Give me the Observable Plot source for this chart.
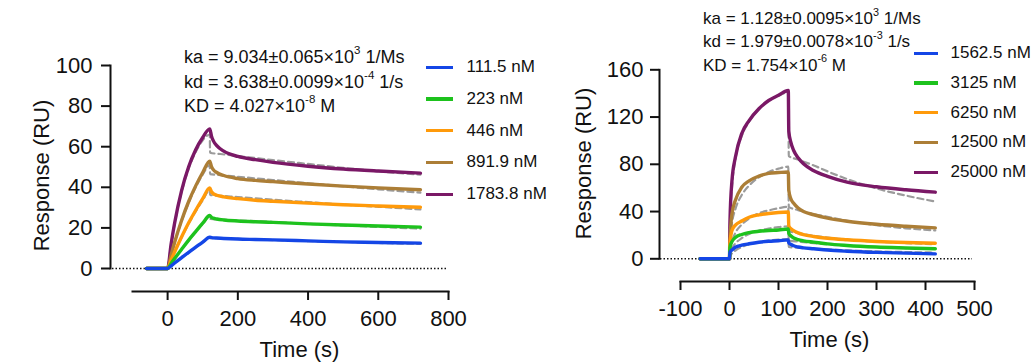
<!DOCTYPE html>
<html>
<head>
<meta charset="utf-8">
<script src="https://cdn.jsdelivr.net/npm/d3@7"></script>
<script src="https://cdn.jsdelivr.net/npm/@observablehq/plot@0.6"></script>
<style>
  html, body { margin: 0; padding: 0; background: #fff; }
  body { font-family: "Liberation Sans", Arial, sans-serif; color: #111; }
  #wrap { position: relative; width: 1036px; height: 363px; overflow: hidden; }
  .panel { position: absolute; top: 0; }
  .note { position: absolute; white-space: nowrap; }
  .note div { white-space: nowrap; }
  .note sup { font-size: 0.64em; line-height: 0; position: relative; top: -0.15em; vertical-align: super; }
  .lg { position: absolute; display: flex; align-items: center; height: 24px; line-height: 24px; white-space: nowrap; font-size: 17px; }
  .sw { height: 3.2px; }
</style>
</head>
<body>
<div id="wrap">
  <div id="left" class="panel" style="left:0px"></div>
  <div id="right" class="panel" style="left:540px"></div>
</div>
<script>
// ---------- LEFT PANEL DATA ----------
const leftSeries = ["111.5 nM", "223 nM", "446 nM", "891.9 nM", "1783.8 nM"];
const leftTimes = [-60, 0, 10, 20, 40, 60, 80, 100, 120, 125, 130, 140, 160, 200, 250, 300, 400, 500, 600, 720];
const left111 = [0, 0, 1.3, 2.7, 5.4, 8.0, 10.5, 13.0, 15.4, 15.2, 15.1, 15.0, 14.8, 14.5, 14.3, 14.1, 13.6, 13.1, 12.8, 12.5];
const left223 = [0, 0, 2.5, 4.9, 9.5, 14.0, 18.2, 22.3, 26.1, 25.2, 24.8, 24.4, 23.9, 23.4, 23.0, 22.7, 22.0, 21.4, 20.9, 20.4];
const left446 = [0, 0, 4.2, 8.1, 15.6, 22.5, 28.7, 34.4, 39.7, 37.8, 36.9, 36.1, 35.3, 34.4, 33.6, 33.1, 32.2, 31.4, 30.8, 30.2];
const left892 = [0, 0, 6.7, 12.9, 23.8, 33.0, 40.7, 47.3, 52.9, 50.2, 48.7, 47.3, 45.8, 44.3, 43.4, 42.8, 41.6, 40.6, 39.7, 38.8];
const left1784 = [0, 0, 12.1, 22.4, 38.5, 50.1, 58.5, 64.5, 68.8, 65.2, 63.0, 60.5, 57.8, 55.2, 53.6, 52.3, 50.4, 49.0, 48.0, 47.0];
const leftFitTimes = [0, 20, 40, 60, 80, 100, 120, 121, 150, 200, 300, 400, 500, 600, 720];
const leftFit111 = [0, 2.7, 5.3, 7.9, 10.4, 12.9, 15.2, 15.0, 14.8, 14.6, 14.0, 13.5, 13.1, 12.6, 12.1];
const leftFit223 = [0, 4.8, 9.4, 13.8, 18.0, 22.0, 25.6, 24.4, 24.1, 23.7, 22.9, 22.0, 21.2, 20.5, 19.6];
const leftFit446 = [0, 8.0, 15.4, 22.1, 28.1, 33.6, 38.6, 36.2, 35.8, 35.2, 33.9, 32.7, 31.5, 30.4, 29.1];
const leftFit892 = [0, 12.7, 23.4, 32.4, 40.0, 46.3, 51.0, 46.5, 46.0, 45.2, 43.6, 42.0, 40.5, 39.0, 37.4];
const leftFit1784 = [0, 22.0, 37.8, 49.2, 57.4, 63.2, 66.0, 57.0, 56.4, 55.4, 53.4, 51.5, 49.6, 47.9, 46.2];
const leftXTicks = [0, 200, 400, 600, 800];
const leftYTicks = [0, 20, 40, 60, 80, 100];
const leftNote = [["ka = 9.034±0.065×10", "3", " 1/Ms"], ["kd = 3.638±0.0099×10", "-4", " 1/s"], ["KD = 4.027×10", "-8", " M"]];

// ---------- RIGHT PANEL DATA ----------
const rightSeries = ["1562.5 nM", "3125 nM", "6250 nM", "12500 nM", "25000 nM"];
const rightTimes = [-60, 0, 1, 5, 12, 25, 40, 60, 80, 100, 120, 121, 125, 131, 140, 151, 172, 200, 240, 300, 360, 420];
const right1562 = [0, 0, 5.6, 7.5, 9.8, 11.5, 12.7, 14.0, 14.8, 15.3, 16.0, 13.5, 12.3, 11.0, 10.0, 9.3, 8.5, 7.4, 6.4, 5.4, 4.8, 4.2];
const right3125 = [0, 0, 9.8, 14.5, 18.0, 20.6, 22.2, 23.3, 24.0, 24.4, 25.2, 21.5, 19.5, 17.6, 16.2, 15.2, 14.1, 12.6, 11.3, 10.0, 9.2, 8.5];
const right6250 = [0, 0, 12.7, 24.0, 28.5, 32.0, 35.2, 37.2, 38.4, 39.2, 39.6, 28.0, 25.5, 23.8, 22.0, 20.5, 18.9, 17.4, 16.1, 14.7, 13.8, 13.2];
const right12500 = [0, 0, 15.5, 38.0, 49.5, 60.6, 66.0, 70.0, 72.3, 73.0, 73.5, 58.0, 51.0, 47.0, 43.0, 40.0, 37.3, 34.5, 31.8, 29.2, 27.5, 26.2];
const right25000 = [0, 0, 32.0, 66.0, 86.0, 106.0, 117.0, 127.0, 134.0, 138.5, 142.5, 108.0, 99.0, 91.7, 85.5, 80.4, 74.5, 69.8, 64.9, 61.0, 58.4, 56.4];
const rightFitTimes = [0, 1, 5, 12, 25, 40, 60, 80, 100, 120, 121, 140, 172, 200, 240, 300, 360, 420];
const rightFit1562 = [0, 2.5, 4.5, 7.0, 10.0, 12.3, 14.2, 15.4, 16.2, 16.7, 10.0, 9.4, 8.5, 7.9, 7.1, 6.3, 5.7, 5.3];
const rightFit3125 = [0, 5.0, 9.0, 13.0, 17.5, 21.0, 23.8, 25.6, 26.8, 27.5, 15.5, 14.6, 13.2, 12.3, 11.2, 10.0, 9.1, 8.3];
const rightFit6250 = [0, 8.0, 15.0, 22.0, 29.0, 34.0, 38.5, 41.0, 42.8, 44.0, 23.5, 21.8, 19.5, 18.0, 16.2, 14.5, 13.3, 12.4];
const rightFit12500 = [0, 14.0, 30.0, 42.0, 54.0, 62.0, 69.0, 73.5, 76.3, 78.0, 44.0, 41.2, 37.8, 35.5, 32.2, 28.5, 25.8, 24.0];
const rightFit25000 = [0, 30.0, 60.0, 84.0, 104.0, 116.0, 127.0, 134.0, 138.0, 141.0, 87.0, 84.0, 79.0, 74.0, 67.5, 59.5, 53.5, 48.5];
const rightXTicks = [-100, 0, 100, 200, 300, 400, 500];
const rightYTicks = [0, 40, 80, 120, 160];
const rightNote = [["ka = 1.128±0.0095×10", "3", " 1/Ms"], ["kd = 1.979±0.0078×10", "-3", " 1/s"], ["KD = 1.754×10", "-6", " M"]];

const seriesColors = ["#1446e6", "#1dc21d", "#ff9a0a", "#ac7e36", "#7a1866"];
const fitColor = "#9b9b9b";

function toRows(times, names, arrays) {
  const out = [];
  for (let k = names.length - 1; k >= 0; k--) {
    times.forEach((t, i) => out.push({t, v: arrays[k][i], s: names[k]}));
  }
  return out;
}

function panel(cfg) {
  const data = toRows(cfg.times, cfg.series, cfg.values);
  const fits = toRows(cfg.fitTimes, cfg.series, cfg.fits);
  return Plot.plot({
    width: cfg.width, height: 363,
    marginLeft: cfg.ml, marginRight: cfg.mr, marginTop: cfg.mt, marginBottom: cfg.mb,
    style: {fontFamily: '"Liberation Sans", Arial, sans-serif', fontSize: "22px", color: "#111", background: "transparent", overflow: "visible"},
    x: {domain: cfg.xDomain, range: cfg.xRange},
    y: {domain: cfg.yDomain, range: cfg.yRange},
    color: {domain: cfg.series, range: seriesColors},
    marks: [
      Plot.ruleY([0], {stroke: "#111", strokeWidth: 1.6, strokeDasharray: "1.5,2", insetLeft: cfg.dotInsetL, insetRight: cfg.dotInsetR}),
      Plot.line(fits, {x: "t", y: "v", z: "s", stroke: fitColor, strokeWidth: 2.2, strokeDasharray: "6,4", curve: "monotone-x"}),
      Plot.line(data, {x: "t", y: "v", z: "s", stroke: "s", strokeWidth: 3.4, curve: "monotone-x"}),
      Plot.frame({anchor: "left", insetTop: cfg.yLineInsetT, insetBottom: cfg.yLineInsetB, stroke: "#111", strokeWidth: 2}),
      Plot.frame({anchor: "bottom", insetLeft: cfg.xLineInsetL, insetRight: cfg.xLineInsetR, stroke: "#111", strokeWidth: 2}),
      Plot.axisY({ticks: cfg.yTicks, tickSize: 9, tickPadding: cfg.yPad, strokeWidth: 2, tickFormat: d => String(d),
        label: "Response (RU)", labelAnchor: "center", labelOffset: cfg.yLabelOffset, labelArrow: false}),
      Plot.axisX({ticks: cfg.xTicks, tickSize: 9, tickPadding: 10, strokeWidth: 2, tickFormat: d => String(d),
        label: "Time (s)", labelAnchor: "center", labelOffset: 65, labelArrow: false})
    ]
  });
}

const leftPlot = panel({
  width: 540, ml: 110, mr: 52, mt: 59, mb: 72,
  xDomain: [-100, 800], xRange: [132, 448],
  yDomain: [0, 100], yRange: [268, 65],
  times: leftTimes, series: leftSeries, values: [left111, left223, left446, left892, left1784],
  fitTimes: leftFitTimes, fits: [leftFit111, leftFit223, leftFit446, leftFit892, leftFit1784],
  xTicks: leftXTicks, yTicks: leftYTicks,
  dotInsetL: 2, dotInsetR: 42, yLineInsetT: 6, yLineInsetB: 23, xLineInsetL: 22, xLineInsetR: 40,
  yPad: 9, yLabelOffset: 77
});
document.getElementById("left").appendChild(leftPlot);

const rightPlot = panel({
  width: 496, ml: 119, mr: 37, mt: 45, mb: 82,
  xDomain: [-100, 500], xRange: [140, 434],
  yDomain: [0, 160], yRange: [258.3, 69.3],
  times: rightTimes, series: rightSeries, values: [right1562, right3125, right6250, right12500, right25000],
  fitTimes: rightFitTimes, fits: [rightFit1562, rightFit3125, rightFit6250, rightFit12500, rightFit25000],
  xTicks: rightXTicks, yTicks: rightYTicks,
  dotInsetL: 1, dotInsetR: 27, yLineInsetT: 24.3, yLineInsetB: 22.7, xLineInsetL: 21, xLineInsetR: 25,
  yPad: 7, yLabelOffset: 84
});
document.getElementById("right").appendChild(rightPlot);

// ---------- annotations & legends ----------
const wrap = document.getElementById("wrap");
function addNote(lines, left, top, size, lh) {
  const n = document.createElement("div");
  n.className = "note";
  n.style.left = left + "px"; n.style.top = top + "px";
  n.style.fontSize = size + "px"; n.style.lineHeight = lh + "px";
  lines.forEach(([a, sup, b]) => {
    const d = document.createElement("div");
    d.append(a);
    const s = document.createElement("sup"); s.textContent = sup; d.append(s);
    d.append(b);
    n.appendChild(d);
  });
  wrap.appendChild(n);
}
function addLegend(names, swLeft, swWidth, gap, centers) {
  names.forEach((name, i) => {
    const row = document.createElement("div");
    row.className = "lg";
    row.style.left = swLeft + "px";
    row.style.top = (centers[0] + i * (centers[1] - centers[0]) - 12) + "px";
    const sw = document.createElement("div");
    sw.className = "sw"; sw.style.width = swWidth + "px"; sw.style.background = seriesColors[i];
    sw.style.marginRight = gap + "px";
    const tx = document.createElement("span"); tx.textContent = name;
    row.append(sw, tx);
    wrap.appendChild(row);
  });
}
addNote(leftNote, 184, 45, 18, 24.6);
addNote(rightNote, 703, 7, 17, 23.3);
addLegend(leftSeries, 426, 27, 13.5, [67.3, 99]);
addLegend(rightSeries, 914, 24, 12.5, [53.3, 83]);
</script>
</body>
</html>
